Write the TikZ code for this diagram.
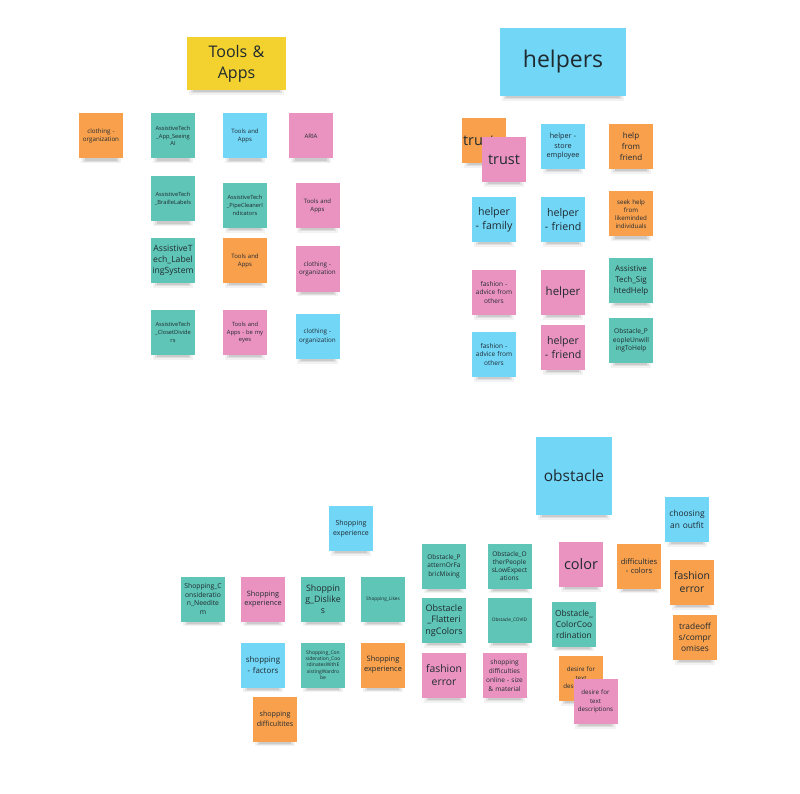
\documentclass[tikz,border=0pt]{standalone}
\usepackage{fontspec}
\setmainfont{Open Sans}
\definecolor{cyel}{HTML}{F3D12E}
\definecolor{cblu}{HTML}{72D6F7}
\definecolor{ctea}{HTML}{5FC5B6}
\definecolor{cpin}{HTML}{EB93C0}
\definecolor{cora}{HTML}{F9A04D}
\definecolor{ink}{HTML}{1F2A30}
\pgfdeclarelayer{background}
\pgfsetlayers{background,main}
\tikzset{
  sticky/.style={minimum width=44pt, minimum height=45pt, inner sep=0pt,
    text width=43pt, align=center, text=ink},
  shadowlayer/.style={fill=black, opacity=#1},
}
\begin{document}
\begin{tikzpicture}[x=1pt,y=-1pt]
\useasboundingbox (0,0) rectangle (800,794);
% ---------- Tools & Apps ----------
\node[sticky, fill=cyel, minimum width=99pt, text width=95pt, minimum height=53pt, font=\fontsize{16}{21}\selectfont] (tools) at (236.5,63.5) {Tools \&\\Apps};
\node[sticky, fill=cora, font=\fontsize{6.2}{8.2}\selectfont] (ta1) at (101,136) {clothing -\\organization};
\node[sticky, fill=ctea, font=\fontsize{5.7}{7.7}\selectfont] (ta2) at (173,136) {AssistiveTech\\\_App\_Seeing\\AI};
\node[sticky, fill=cblu, font=\fontsize{6}{8}\selectfont] (ta3) at (245,136) {Tools and\\Apps};
\node[sticky, fill=cpin, font=\fontsize{6}{8}\selectfont] (ta4) at (311,136) {ARIA};
\node[sticky, fill=ctea, font=\fontsize{5.7}{7.7}\selectfont] (ta5) at (173,199) {AssistiveTech\\\_BrailleLabels\\[4pt]};
\node[sticky, fill=ctea, font=\fontsize{5.7}{7.7}\selectfont] (ta6) at (245,205.5) {AssistiveTech\\\_PipeCleanerI\\ndicators};
\node[sticky, fill=cpin, font=\fontsize{6}{8}\selectfont] (ta7) at (317.5,205.5) {Tools and\\Apps};
\node[sticky, fill=ctea, font=\fontsize{8.6}{11}\selectfont] (ta8) at (173,260.5) {AssistiveT\\ech\_Label\\ingSystem};
\node[sticky, fill=cora, font=\fontsize{6}{8}\selectfont] (ta9) at (245,260.5) {Tools and\\Apps};
\node[sticky, fill=cpin, font=\fontsize{6.3}{8.3}\selectfont] (ta10) at (317.5,269) {clothing -\\organization};
\node[sticky, fill=ctea, font=\fontsize{5.7}{7.7}\selectfont] (ta11) at (173,332.5) {AssistiveTech\\\_ClosetDivide\\rs};
\node[sticky, fill=cpin, font=\fontsize{5.8}{7.8}\selectfont] (ta12) at (245,332.5) {Tools and\\Apps - be my\\eyes};
\node[sticky, fill=cblu, font=\fontsize{6.3}{8.3}\selectfont] (ta13) at (317.5,336.5) {clothing -\\organization};
% ---------- helpers ----------
\node[sticky, fill=cblu, minimum width=126pt, text width=120pt, minimum height=68pt, font=\fontsize{23}{26}\selectfont] (helpers) at (563,62) {helpers};
\node[sticky, fill=cora, font=\fontsize{14.5}{16}\selectfont, text width=40pt, align=left] (he1) at (484,140.5) {\hspace*{-1pt}trust};
\node[sticky, fill=cpin, font=\fontsize{14.5}{16}\selectfont] (he2) at (504,159.5) {trust};
\node[sticky, fill=cblu, font=\fontsize{7.2}{9.6}\selectfont] (he3) at (563,146.5) {helper -\\store\\employee};
\node[sticky, fill=cora, font=\fontsize{8}{10.8}\selectfont] (he4) at (631,146.5) {help\\from\\friend};
\node[sticky, fill=cblu, font=\fontsize{10.6}{13.5}\selectfont] (he5) at (494,219.5) {helper\\- family};
\node[sticky, fill=cblu, font=\fontsize{10.6}{13.5}\selectfont] (he6) at (563,219.5) {helper\\- friend};
\node[sticky, fill=cora, font=\fontsize{6.2}{8.2}\selectfont] (he7) at (631,214) {seek help\\from\\likeminded\\individuals\\[3pt]};
\node[sticky, fill=cpin, font=\fontsize{6.5}{8.8}\selectfont] (he8) at (494,292.5) {fashion -\\advice from\\others};
\node[sticky, fill=cpin, font=\fontsize{11.5}{14}\selectfont] (he9) at (563,292.5) {helper};
\node[sticky, fill=ctea, font=\fontsize{8}{10.6}\selectfont] (he10) at (631,280.5) {Assistive\\Tech\_Sig\\htedHelp};
\node[sticky, fill=cblu, font=\fontsize{6.5}{8.8}\selectfont] (he11) at (494,354.5) {fashion -\\advice from\\others};
\node[sticky, fill=cpin, font=\fontsize{10.6}{13.5}\selectfont] (he12) at (563,347.5) {helper\\- friend};
\node[sticky, fill=ctea, font=\fontsize{6.6}{8.6}\selectfont] (he13) at (631,340.5) {Obstacle\_P\\eopleUnwill\\ingToHelp\\[3pt]};
% ---------- shopping ----------
\node[sticky, fill=cblu, font=\fontsize{7}{9.6}\selectfont] (sh1) at (351,528.5) {Shopping\\experience};
\node[sticky, fill=ctea, font=\fontsize{6.8}{8.4}\selectfont] (sh2) at (203,599) {Shopping\_C\\onsideratio\\n\_Needite\\m};
\node[sticky, fill=cpin, font=\fontsize{7.3}{9.8}\selectfont] (sh3) at (263,599) {Shopping\\experience};
\node[sticky, fill=ctea, font=\fontsize{8.8}{11.2}\selectfont] (sh4) at (323,599) {Shoppin\\g\_Dislike\\s};
\node[sticky, fill=ctea, font=\fontsize{4.7}{6}\selectfont] (sh5) at (383,599) {Shopping\_Likes};
\node[sticky, fill=cblu, font=\fontsize{7.9}{10.6}\selectfont] (sh6) at (263,665) {shopping\\- factors};
\node[sticky, fill=ctea, font=\fontsize{5}{6.4}\selectfont] (sh7) at (323,665) {Shopping\_Con\\sideration\_Coo\\rdinatesWithE\\xistingWardro\\be};
\node[sticky, fill=cora, font=\fontsize{7.4}{10}\selectfont] (sh8) at (383,665) {Shopping\\experience};
\node[sticky, fill=cora, font=\fontsize{7.1}{9.6}\selectfont] (sh9) at (275,719) {shopping\\difficultites};
% ---------- obstacle ----------
\node[sticky, fill=cblu, minimum width=76pt, text width=74pt, minimum height=78pt, font=\fontsize{15.5}{18}\selectfont] (obst) at (574,476) {obstacle};
\node[sticky, fill=cblu, font=\fontsize{8.4}{11.4}\selectfont] (ob1) at (687,519.5) {choosing\\an outfit};
\node[sticky, fill=ctea, font=\fontsize{6.5}{8.6}\selectfont] (ob2) at (444,566) {Obstacle\_P\\atternOrFa\\bricMixing};
\node[sticky, fill=ctea, font=\fontsize{6.5}{8.2}\selectfont] (ob3) at (509.5,566) {Obstacle\_O\\therPeople\\sLowExpect\\ations};
\node[sticky, fill=cpin, font=\fontsize{14.5}{17}\selectfont] (ob4) at (581,564.5) {color};
\node[sticky, fill=cora, font=\fontsize{7.6}{9.6}\selectfont] (ob5) at (639,566) {difficulties\\- colors\\[6pt]};
\node[sticky, fill=cora, font=\fontsize{10.4}{13}\selectfont] (ob6) at (692,582.5) {fashion\\error};
\node[sticky, fill=ctea, font=\fontsize{9}{11.4}\selectfont] (ob7) at (444,620.5) {Obstacle\\\_Flatteri\\ngColors};
\node[sticky, fill=ctea, font=\fontsize{4.7}{6}\selectfont] (ob8) at (509.5,620.5) {Obstacle\_COVID};
\node[sticky, fill=ctea, font=\fontsize{8.4}{11}\selectfont] (ob9) at (574,624) {Obstacle\_\\ColorCoo\\rdination};
\node[sticky, fill=cora, font=\fontsize{8.4}{11}\selectfont] (ob10) at (695,637.5) {tradeoff\\s/compr\\omises};
\node[sticky, fill=cpin, font=\fontsize{10.4}{13}\selectfont] (ob11) at (444,675.5) {fashion\\error};
\node[sticky, fill=cpin, font=\fontsize{6.5}{9}\selectfont] (ob12) at (504.5,675.5) {shopping\\difficulties\\online - size\\\& material};
\node[sticky, fill=cora, font=\fontsize{6.2}{8.8}\selectfont] (ob13) at (581,678.5) {desire for\\text\\descriptions};
\node[sticky, fill=cpin, font=\fontsize{6.2}{8.8}\selectfont] (ob14) at (595.5,701.5) {desire for\\text\\descriptions};
% ---------- soft shadows ----------
\begin{pgfonlayer}{background}
\fill[white] (0,0) rectangle (800,794);
\foreach \n in {tools,ta1,ta2,ta3,ta4,ta5,ta6,ta7,ta8,ta9,ta10,ta11,ta12,ta13,
  helpers,he1,he2,he3,he4,he5,he6,he7,he8,he9,he10,he11,he12,he13,
  sh1,sh2,sh3,sh4,sh5,sh6,sh7,sh8,sh9,
  obst,ob1,ob2,ob3,ob4,ob5,ob6,ob7,ob8,ob9,ob10,ob11,ob12,ob13,ob14}{
  \fill[shadowlayer=0.05] ([xshift=2pt,yshift=6pt]\n.south west) rectangle ([xshift=-2pt,yshift=-4.5pt]\n.south east);
  \fill[shadowlayer=0.07] ([xshift=4pt,yshift=6pt]\n.south west) rectangle ([xshift=-4pt,yshift=-3.2pt]\n.south east);
  \fill[shadowlayer=0.09] ([xshift=6pt,yshift=6pt]\n.south west) rectangle ([xshift=-6pt,yshift=-2pt]\n.south east);
}
\end{pgfonlayer}
\end{tikzpicture}
\end{document}
